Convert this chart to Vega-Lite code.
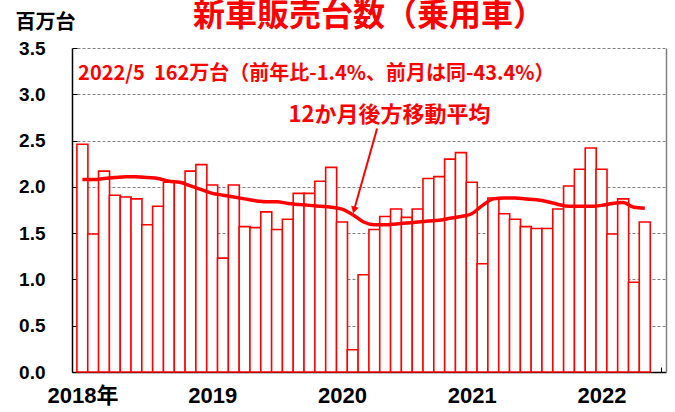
{
  "$schema": "https://vega.github.io/schema/vega-lite/v6.json",
  "width": 594,
  "height": 324,
  "autosize": {"type": "none"},
  "padding": {"left": 72, "top": 48, "right": 9, "bottom": 40},
  "background": "white",
  "config": {"view": {"stroke": null}, "font": "Noto Sans CJK JP"},
  "title": {
    "text": "新車販売台数（乗用車）",
    "color": "#ff0000",
    "fontSize": 32,
    "fontWeight": "bold",
    "font": "Noto Sans CJK JP",
    "anchor": "middle",
    "frame": "group",
    "offset": -21
  },
  "datasets": {
    "sales": [
      {"i": 1, "month": "2018-01", "v": 2.46, "ma": 2.08},
      {"i": 2, "month": "2018-02", "v": 1.49, "ma": 2.08},
      {"i": 3, "month": "2018-03", "v": 2.17, "ma": 2.09},
      {"i": 4, "month": "2018-04", "v": 1.91, "ma": 2.10},
      {"i": 5, "month": "2018-05", "v": 1.89, "ma": 2.11},
      {"i": 6, "month": "2018-06", "v": 1.87, "ma": 2.11},
      {"i": 7, "month": "2018-07", "v": 1.59, "ma": 2.10},
      {"i": 8, "month": "2018-08", "v": 1.79, "ma": 2.09},
      {"i": 9, "month": "2018-09", "v": 2.05, "ma": 2.06},
      {"i": 10, "month": "2018-10", "v": 2.05, "ma": 2.05},
      {"i": 11, "month": "2018-11", "v": 2.17, "ma": 2.01},
      {"i": 12, "month": "2018-12", "v": 2.24, "ma": 1.97},
      {"i": 13, "month": "2019-01", "v": 2.02, "ma": 1.93},
      {"i": 14, "month": "2019-02", "v": 1.23, "ma": 1.91},
      {"i": 15, "month": "2019-03", "v": 2.02, "ma": 1.89},
      {"i": 16, "month": "2019-04", "v": 1.57, "ma": 1.87},
      {"i": 17, "month": "2019-05", "v": 1.56, "ma": 1.85},
      {"i": 18, "month": "2019-06", "v": 1.73, "ma": 1.84},
      {"i": 19, "month": "2019-07", "v": 1.54, "ma": 1.84},
      {"i": 20, "month": "2019-08", "v": 1.65, "ma": 1.82},
      {"i": 21, "month": "2019-09", "v": 1.93, "ma": 1.81},
      {"i": 22, "month": "2019-10", "v": 1.93, "ma": 1.80},
      {"i": 23, "month": "2019-11", "v": 2.06, "ma": 1.79},
      {"i": 24, "month": "2019-12", "v": 2.21, "ma": 1.78},
      {"i": 25, "month": "2020-01", "v": 1.62, "ma": 1.76},
      {"i": 26, "month": "2020-02", "v": 0.24, "ma": 1.70},
      {"i": 27, "month": "2020-03", "v": 1.05, "ma": 1.62},
      {"i": 28, "month": "2020-04", "v": 1.54, "ma": 1.59},
      {"i": 29, "month": "2020-05", "v": 1.68, "ma": 1.59},
      {"i": 30, "month": "2020-06", "v": 1.76, "ma": 1.60},
      {"i": 31, "month": "2020-07", "v": 1.67, "ma": 1.61},
      {"i": 32, "month": "2020-08", "v": 1.76, "ma": 1.62},
      {"i": 33, "month": "2020-09", "v": 2.09, "ma": 1.63},
      {"i": 34, "month": "2020-10", "v": 2.11, "ma": 1.64},
      {"i": 35, "month": "2020-11", "v": 2.30, "ma": 1.66},
      {"i": 36, "month": "2020-12", "v": 2.37, "ma": 1.68},
      {"i": 37, "month": "2021-01", "v": 2.05, "ma": 1.71},
      {"i": 38, "month": "2021-02", "v": 1.17, "ma": 1.80},
      {"i": 39, "month": "2021-03", "v": 1.88, "ma": 1.87},
      {"i": 40, "month": "2021-04", "v": 1.71, "ma": 1.88},
      {"i": 41, "month": "2021-05", "v": 1.65, "ma": 1.88},
      {"i": 42, "month": "2021-06", "v": 1.57, "ma": 1.87},
      {"i": 43, "month": "2021-07", "v": 1.55, "ma": 1.86},
      {"i": 44, "month": "2021-08", "v": 1.55, "ma": 1.84},
      {"i": 45, "month": "2021-09", "v": 1.76, "ma": 1.81},
      {"i": 46, "month": "2021-10", "v": 2.01, "ma": 1.79},
      {"i": 47, "month": "2021-11", "v": 2.19, "ma": 1.79},
      {"i": 48, "month": "2021-12", "v": 2.42, "ma": 1.79},
      {"i": 49, "month": "2022-01", "v": 2.19, "ma": 1.80},
      {"i": 50, "month": "2022-02", "v": 1.49, "ma": 1.82},
      {"i": 51, "month": "2022-03", "v": 1.87, "ma": 1.83},
      {"i": 52, "month": "2022-04", "v": 0.97, "ma": 1.78},
      {"i": 53, "month": "2022-05", "v": 1.62, "ma": 1.77}
    ],
    "note1": [{"x": 0.6, "y": 3.22, "text": "2022/5\u00a0\u00a0162万台（前年比-1.4%、前月は同-43.4%）"}],
    "note2": [{"x": 20.05, "y": 2.78, "text": "12か月後方移動平均"}],
    "arrow": [{"x": 28.25, "y": 2.63, "x2": 26.12, "y2": 1.75}]
  },
  "layer": [
    {
      "data": {"name": "sales"},
      "mark": {"type": "bar", "fill": "white", "stroke": "#ff0000", "strokeWidth": 1.6, "width": 11},
      "encoding": {
        "x": {
          "field": "i", "type": "quantitative",
          "scale": {"domain": [0.5, 54.5], "nice": false, "zero": false},
          "axis": {
            "orient": "bottom", "values": [1, 13, 25, 37, 49],
            "labelExpr": "datum.value == 1 ? '2018年' : toString(2018 + floor((datum.value - 1) / 12))",
            "ticks": false, "grid": false, "domainColor": "black", "domainWidth": 1.5,
            "labelFont": "Liberation Sans, Noto Sans CJK JP", "labelFontSize": 22, "labelFontWeight": "bold",
            "labelColor": "black", "labelPadding": 13, "title": null
          }
        },
        "y": {
          "field": "v", "type": "quantitative",
          "scale": {"domain": [0, 3.5], "nice": false},
          "axis": {
            "values": [0, 0.5, 1, 1.5, 2, 2.5, 3, 3.5], "format": ".1f",
            "grid": true, "gridDash": [3, 2], "gridColor": "#808080", "gridWidth": 1,
            "ticks": false, "domainColor": "black", "domainWidth": 1.5,
            "labelFont": "Liberation Sans", "labelFontSize": 19, "labelFontWeight": "bold",
            "labelColor": "black", "labelPadding": 27,
            "title": "百万台", "titleAngle": 0, "titleAlign": "left", "titleBaseline": "alphabetic",
            "titleX": -57, "titleY": -20, "titleFont": "Noto Sans CJK JP", "titleFontSize": 20,
            "titleFontWeight": "bold", "titleColor": "black"
          }
        }
      }
    },
    {
      "data": {"name": "sales"},
      "mark": {"type": "line", "color": "#ff0000", "strokeWidth": 3.5, "interpolate": "monotone"},
      "encoding": {
        "x": {
          "field": "i", "type": "quantitative",
          "axis": {
            "orient": "bottom",
            "values": [0.5, 1.5, 2.5, 3.5, 4.5, 5.5, 6.5, 7.5, 8.5, 9.5, 10.5, 11.5, 12.5, 13.5, 14.5, 15.5, 16.5, 17.5, 18.5, 19.5, 20.5, 21.5, 22.5, 23.5, 24.5, 25.5, 26.5, 27.5, 28.5, 29.5, 30.5, 31.5, 32.5, 33.5, 34.5, 35.5, 36.5, 37.5, 38.5, 39.5, 40.5, 41.5, 42.5, 43.5, 44.5, 45.5, 46.5, 47.5, 48.5, 49.5, 50.5, 51.5, 52.5, 53.5, 54.5],
            "labels": false, "domain": false, "grid": false, "ticks": true,
            "tickSize": -5, "tickColor": "black", "tickWidth": 1, "title": null
          }
        },
        "y": {
          "field": "ma", "type": "quantitative",
          "axis": {
            "orient": "right", "labels": false, "ticks": false, "grid": false,
            "domainColor": "#808080", "domainWidth": 1.5, "title": null
          }
        }
      }
    },
    {
      "data": {"name": "note1"},
      "mark": {"type": "text", "color": "#ff0000", "align": "left", "baseline": "middle", "fontSize": 20, "fontWeight": "bold", "font": "Noto Sans CJK JP"},
      "encoding": {
        "x": {"field": "x", "type": "quantitative", "axis": null},
        "y": {
          "field": "y", "type": "quantitative",
          "axis": {
            "orient": "left", "values": [0, 0.5, 1, 1.5, 2, 2.5, 3, 3.5],
            "labels": false, "domain": false, "grid": false, "ticks": true,
            "tickSize": -5, "tickColor": "black", "title": null
          }
        },
        "text": {"field": "text"}
      }
    },
    {
      "data": {"name": "note2"},
      "mark": {"type": "text", "color": "#ff0000", "align": "left", "baseline": "middle", "fontSize": 22, "fontWeight": "bold", "font": "Noto Sans CJK JP"},
      "encoding": {
        "x": {"field": "x", "type": "quantitative", "axis": null},
        "y": {"field": "y", "type": "quantitative", "axis": null},
        "text": {"field": "text"}
      }
    },
    {
      "data": {"name": "arrow"},
      "mark": {"type": "rule", "color": "#ff0000", "strokeWidth": 2},
      "encoding": {
        "x": {"field": "x", "type": "quantitative", "axis": null},
        "y": {"field": "y", "type": "quantitative", "axis": null},
        "x2": {"field": "x2"},
        "y2": {"field": "y2"}
      }
    },
    {
      "data": {"name": "arrow"},
      "mark": {"type": "point", "shape": "triangle-down", "angle": 16, "size": 60, "filled": true, "color": "#ff0000", "opacity": 1},
      "encoding": {
        "x": {"field": "x2", "type": "quantitative", "axis": null},
        "y": {"field": "y2", "type": "quantitative", "axis": null}
      }
    }
  ],
  "resolve": {"axis": {"x": "independent", "y": "independent"}}
}
